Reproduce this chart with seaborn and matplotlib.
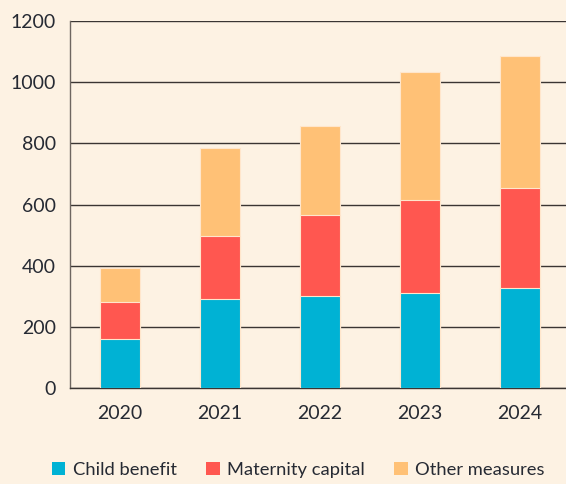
import matplotlib
matplotlib.use("Agg")
import matplotlib.pyplot as plt
from matplotlib.patches import Patch
import seaborn as sns
import numpy as np
import pandas as pd

years = ["2020", "2021", "2022", "2023", "2024"]
child_benefit = [160, 291, 301, 312, 326]
maternity_capital = [121, 206, 265, 303, 328]
other_measures = [111, 288, 291, 417, 433]
series_names = ["Child benefit", "Maternity capital", "Other measures"]
colors = ["#00b2d4", "#ff5750", "#ffc176"]
bg = "#fdf2e3"

sns.set_theme(style="white")
plt.rcParams["font.family"] = ["Lato", "DejaVu Sans"]

# cumulative tops for stacked drawing (largest first so smaller ones overlay)
cb = np.array(child_benefit)
mc = cb + np.array(maternity_capital)
om = mc + np.array(other_measures)
df = pd.DataFrame({"year": years, "cb": cb, "mc": mc, "om": om})

fig = plt.figure(figsize=(5.66, 4.84), dpi=100, facecolor=bg)
ax = fig.add_axes([0.1237, 0.198, 0.8763, 0.7586])
ax.set_facecolor(bg)

for col, color in zip(["om", "mc", "cb"], colors[::-1]):
    sns.barplot(data=df, x="year", y=col, color=color, width=0.4, ax=ax,
                edgecolor="#ffe6cc", linewidth=0.8, saturation=1, zorder=3)

ax.set_ylim(0, 1200)
ax.set_xlim(-0.5, 4.46)
ax.set_yticks(range(0, 1201, 200))
ax.yaxis.grid(True, color="#3a3533", linewidth=1.0, zorder=1)
ax.xaxis.grid(False)
ax.set_xlabel("")
ax.set_ylabel("")
for s in ["top", "right"]:
    ax.spines[s].set_visible(False)
ax.spines["left"].set_color("#6e6660")
ax.spines["left"].set_linewidth(1.0)
ax.spines["bottom"].set_color("#3a3533")
ax.spines["bottom"].set_linewidth(1.0)
ax.tick_params(axis="both", length=0, labelsize=14, labelcolor="#262a33")
ax.tick_params(axis="y", pad=10)
ax.tick_params(axis="x", pad=12)

handles = [Patch(facecolor=c, edgecolor="none") for c in colors]
fig.legend(handles, series_names, loc="lower center", bbox_to_anchor=(0.527, -0.022),
           ncol=3, frameon=False, fontsize=13.2, handlelength=0.75, handleheight=0.75,
           handletextpad=0.4, columnspacing=1.6, labelcolor="#262a33")

fig.savefig("out.png", dpi=100, facecolor=bg)
